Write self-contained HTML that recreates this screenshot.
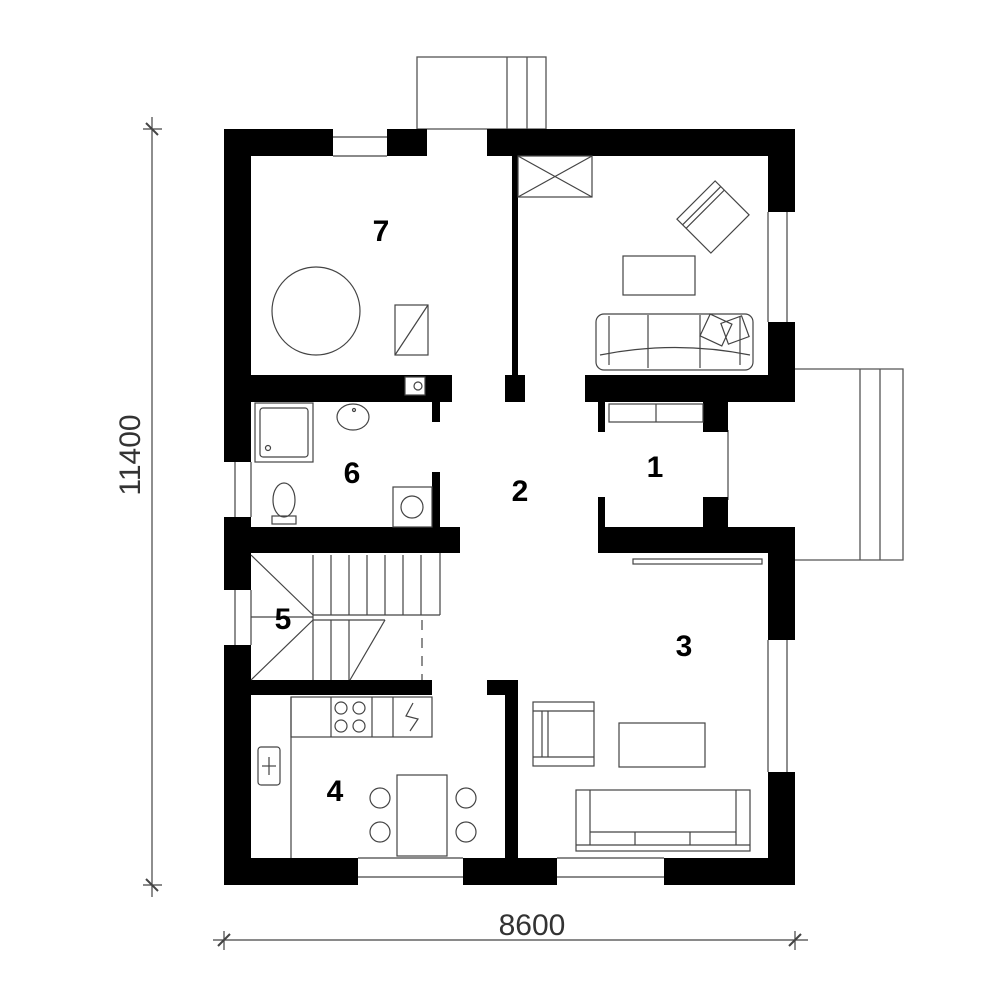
<!DOCTYPE html>
<html><head><meta charset="utf-8"><style>body{margin:0;background:#fff}svg{display:block}</style></head>
<body>
<svg width="1000" height="1000" viewBox="0 0 1000 1000" xmlns="http://www.w3.org/2000/svg" font-family="Liberation Sans, sans-serif">
<g fill="none" stroke="#555" stroke-width="1.3">
<rect x="417" y="57" width="129" height="72"/>
<line x1="507" y1="57" x2="507" y2="129"/><line x1="527" y1="57" x2="527" y2="129"/>
<path d="M795 369 H903 V560 H795"/>
<line x1="860" y1="369" x2="860" y2="560"/><line x1="880" y1="369" x2="880" y2="560"/>
</g>
<line x1="728" y1="430" x2="728" y2="500" stroke="#555" stroke-width="1.3"/>
<g fill="#000">
<rect x="224" y="129" width="109" height="27"/>
<rect x="387" y="129" width="40" height="27"/>
<rect x="487" y="129" width="308" height="27"/>
<rect x="224" y="129" width="27" height="333"/>
<rect x="224" y="517" width="27" height="73"/>
<rect x="224" y="645" width="27" height="240"/>
<rect x="768" y="129" width="27" height="83"/>
<rect x="768" y="322" width="27" height="80"/>
<rect x="768" y="527" width="27" height="113"/>
<rect x="768" y="772" width="27" height="113"/>
<rect x="224" y="858" width="134" height="27"/>
<rect x="463" y="858" width="94" height="27"/>
<rect x="664" y="858" width="131" height="27"/>
<rect x="512" y="156" width="6" height="220"/>
<rect x="505" y="375" width="20" height="27"/>
<rect x="224" y="375" width="228" height="27"/>
<rect x="585" y="375" width="210" height="27"/>
<rect x="598" y="402" width="7" height="30"/>
<rect x="703" y="402" width="25" height="30"/>
<rect x="598" y="497" width="7" height="30"/>
<rect x="703" y="497" width="25" height="30"/>
<rect x="598" y="527" width="197" height="26"/>
<rect x="432" y="402" width="8" height="20"/>
<rect x="432" y="472" width="8" height="55"/>
<rect x="224" y="527" width="236" height="26"/>
<rect x="224" y="680" width="208" height="15"/>
<rect x="487" y="680" width="31" height="15"/>
<rect x="505" y="680" width="13" height="178"/>
</g>
<g fill="none" stroke="#444" stroke-width="1.2">
<line x1="333" y1="137" x2="387" y2="137"/><line x1="333" y1="156" x2="387" y2="156"/>
<line x1="787" y1="212" x2="787" y2="322"/><line x1="768" y1="212" x2="768" y2="322"/>
<line x1="235" y1="462" x2="235" y2="517"/><line x1="251" y1="462" x2="251" y2="517"/>
<line x1="235" y1="590" x2="235" y2="645"/><line x1="251" y1="590" x2="251" y2="645"/>
<line x1="787" y1="640" x2="787" y2="772"/><line x1="768" y1="640" x2="768" y2="772"/>
<line x1="358" y1="877" x2="463" y2="877"/><line x1="358" y1="858" x2="463" y2="858"/>
<line x1="557" y1="877" x2="664" y2="877"/><line x1="557" y1="858" x2="664" y2="858"/>
<rect x="518" y="156" width="74" height="41"/>
<line x1="518" y1="156" x2="592" y2="197"/><line x1="518" y1="197" x2="592" y2="156"/>
<ellipse cx="316" cy="311" rx="44" ry="44"/>
<rect x="395" y="305" width="33" height="50"/><line x1="395" y1="355" x2="428" y2="305"/>
<g transform="translate(713,217) rotate(-45)"><rect x="-27" y="-24" width="54" height="48"/><line x1="-27" y1="-16" x2="27" y2="-16"/><line x1="-27" y1="-11" x2="27" y2="-11"/></g>
<rect x="623" y="256" width="72" height="39"/>
<rect x="596" y="314" width="157" height="56" rx="8"/>
<line x1="609" y1="316" x2="609" y2="365"/><line x1="740" y1="316" x2="740" y2="365"/>
<line x1="648" y1="315" x2="648" y2="368"/><line x1="700" y1="315" x2="700" y2="368"/>
<path d="M600 355 Q675 340 750 355"/>
<g transform="translate(716,330) rotate(25)"><rect x="-12" y="-12" width="24" height="24"/></g>
<g transform="translate(735,330) rotate(-20)"><rect x="-11" y="-11" width="22" height="22"/></g>
<rect x="609" y="404" width="94" height="18"/><line x1="656" y1="404" x2="656" y2="422"/>
<rect x="633" y="559" width="129" height="5"/>
<rect x="255" y="403" width="58" height="59"/><rect x="260" y="408" width="48" height="49" rx="3"/>
<circle cx="268" cy="448" r="2.5"/>
<ellipse cx="353" cy="417" rx="16" ry="13"/><circle cx="354" cy="410" r="1.5"/>
<ellipse cx="284" cy="500" rx="11" ry="17"/><rect x="272" y="516" width="24" height="8"/>
<rect x="393" y="487" width="39" height="40"/><circle cx="412" cy="507" r="11"/>
<rect x="405" y="377" width="20" height="18" fill="#fff"/><circle cx="418" cy="386" r="4"/>
<line x1="313" y1="555" x2="313" y2="680"/>
<line x1="331" y1="555" x2="331" y2="615"/><line x1="349" y1="555" x2="349" y2="615"/>
<line x1="367" y1="555" x2="367" y2="615"/><line x1="385" y1="555" x2="385" y2="615"/>
<line x1="403" y1="555" x2="403" y2="615"/><line x1="421" y1="555" x2="421" y2="615"/>
<line x1="440" y1="553" x2="440" y2="615"/>
<line x1="313" y1="615" x2="440" y2="615"/>
<line x1="251" y1="617" x2="313" y2="617"/>
<line x1="251" y1="555" x2="313" y2="615"/><line x1="313" y1="620" x2="251" y2="680"/>
<line x1="313" y1="620" x2="385" y2="620"/><line x1="385" y1="620" x2="350" y2="680"/>
<line x1="331" y1="620" x2="331" y2="680"/><line x1="349" y1="620" x2="349" y2="680"/>
<line x1="422" y1="620" x2="422" y2="680" stroke-dasharray="10 8"/>
<line x1="291" y1="697" x2="291" y2="858"/>
<rect x="291" y="697" width="141" height="40"/>
<line x1="331" y1="697" x2="331" y2="737"/><line x1="372" y1="697" x2="372" y2="737"/><line x1="393" y1="697" x2="393" y2="737"/>
<circle cx="341" cy="708" r="6"/><circle cx="359" cy="708" r="6"/><circle cx="341" cy="726" r="6"/><circle cx="359" cy="726" r="6"/>
<path d="M413 703 L406 716 L418 719 L410 731"/>
<rect x="258" y="747" width="22" height="38" rx="3"/><line x1="262" y1="766" x2="276" y2="766"/><line x1="269" y1="757" x2="269" y2="775"/>
<rect x="397" y="775" width="50" height="81"/>
<circle cx="380" cy="798" r="10"/><circle cx="380" cy="832" r="10"/>
<circle cx="466" cy="798" r="10"/><circle cx="466" cy="832" r="10"/>
<rect x="533" y="702" width="61" height="64"/><line x1="533" y1="711" x2="594" y2="711"/><line x1="533" y1="757" x2="594" y2="757"/>
<line x1="548" y1="711" x2="548" y2="757"/><line x1="542" y1="711" x2="542" y2="757"/>
<rect x="619" y="723" width="86" height="44"/>
<rect x="576" y="790" width="174" height="61"/><line x1="576" y1="845" x2="750" y2="845"/>
<line x1="590" y1="790" x2="590" y2="845"/><line x1="736" y1="790" x2="736" y2="845"/>
<line x1="590" y1="832" x2="736" y2="832"/>
<line x1="635" y1="832" x2="635" y2="845"/><line x1="690" y1="832" x2="690" y2="845"/>
</g>
<g stroke="#444" stroke-width="1.2">
<line x1="152" y1="117" x2="152" y2="897"/>
<line x1="143" y1="129" x2="162" y2="129"/><line x1="146" y1="123" x2="158" y2="135" stroke-width="2"/>
<line x1="143" y1="885" x2="162" y2="885"/><line x1="146" y1="879" x2="158" y2="891" stroke-width="2"/>
<line x1="213" y1="940" x2="808" y2="940"/>
<line x1="224" y1="931" x2="224" y2="950"/><line x1="218" y1="946" x2="230" y2="934" stroke-width="2"/>
<line x1="795" y1="931" x2="795" y2="950"/><line x1="789" y1="946" x2="801" y2="934" stroke-width="2"/>
</g>
<text x="532" y="935" font-size="30" text-anchor="middle" fill="#333">8600</text>
<text transform="translate(140,455) rotate(-90)" font-size="30" text-anchor="middle" fill="#333">11400</text>
<g font-size="30" font-weight="bold" text-anchor="middle" fill="#000">
<text x="381" y="241">7</text><text x="352" y="483">6</text><text x="520" y="501">2</text>
<text x="655" y="477">1</text><text x="283" y="629">5</text><text x="684" y="656">3</text><text x="335" y="801">4</text>
</g>
</svg>
</body></html>
